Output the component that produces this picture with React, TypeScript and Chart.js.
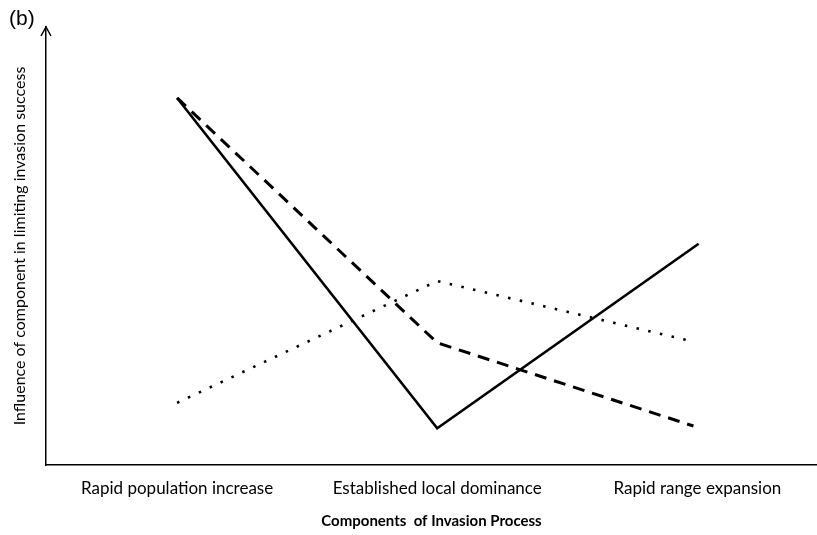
import React, { useEffect, useRef } from "react";
import { Chart, registerables } from "chart.js";

Chart.register(...registerables);

const categories = ["Rapid population increase", "Established local dominance", "Rapid range expansion"];
const solidX = [0, 1, 2.005];
const solidY = [8.38, 0.84, 5.05];
const dashedX = [0, 1, 1.985];
const dashedY = [8.38, 2.79, 0.89];
const dottedX = [0, 1, 1.99];
const dottedY = [1.42, 4.2, 2.81];
const xTitle = "Components  of Invasion Process";
const yTitle = "Influence of component in limiting invasion success";
const panelLabel = "(b)";

const pts = (xs: number[], ys: number[]) => xs.map((x, i) => ({ x, y: ys[i] }));

export default function App() {
  const ref = useRef<HTMLCanvasElement>(null);
  useEffect(() => {
    if (!ref.current) return;
    const decor = {
      id: "decor",
      afterDraw(chart: any) {
        const ctx = chart.ctx;
        const a = chart.chartArea;
        ctx.save();
        ctx.strokeStyle = "#000";
        ctx.lineWidth = 1.5;
        ctx.beginPath();
        ctx.moveTo(a.left - 5, a.top + 9);
        ctx.lineTo(a.left, a.top);
        ctx.lineTo(a.left + 5, a.top + 9);
        ctx.stroke();
        ctx.fillStyle = "#000";
        ctx.font = "21px 'Liberation Sans', Arial, sans-serif";
        ctx.textBaseline = "alphabetic";
        ctx.textAlign = "left";
        ctx.fillText(panelLabel, 9, 25);
        ctx.restore();
      },
    };
    const chart = new Chart(ref.current, {
      type: "scatter",
      data: {
        datasets: [
          {
            label: "solid",
            data: pts(solidX, solidY),
            showLine: true,
            borderColor: "#000",
            borderWidth: 2.6,
            pointRadius: 0,
            fill: false,
          },
          {
            label: "dashed",
            data: pts(dashedX, dashedY),
            showLine: true,
            borderColor: "#000",
            borderWidth: 3,
            borderDash: [12, 8],
            pointRadius: 0,
            fill: false,
          },
          {
            label: "dotted",
            data: pts(dottedX, dottedY),
            showLine: true,
            borderColor: "#000",
            borderWidth: 2.6,
            borderDash: [2.5, 9.5],
            pointRadius: 0,
            fill: false,
          },
        ] as any,
      },
      options: {
        animation: false,
        responsive: false,
        maintainAspectRatio: false,
        layout: { padding: { top: 27, left: 0, right: 0, bottom: 0 } },
        plugins: { legend: { display: false }, tooltip: { enabled: false } },
        scales: {
          x: {
            type: "linear",
            min: -0.504,
            max: 2.46,
            afterBuildTicks: (scale: any) => {
              scale.ticks = categories.map((_, i) => ({ value: i }));
            },
            ticks: {
              color: "#000",
              font: { family: "Lato", size: 17 },
              padding: 13,
              callback: (v: any) => categories[Math.round(Number(v))] ?? "",
              maxRotation: 0,
              autoSkip: false,
            },
            grid: { display: false, drawTicks: false },
            border: { display: true, color: "#000", width: 1.5 },
            title: {
              display: true,
              text: xTitle,
              color: "#000",
              font: { family: "Lato", size: 15, weight: "bold" },
              padding: { top: 0, bottom: 5 },
            },
            afterFit: (scale: any) => {
              scale.height = 70;
            },
          },
          y: {
            type: "linear",
            min: 0,
            max: 10,
            ticks: { display: false },
            grid: { display: false, drawTicks: false },
            border: { display: true, color: "#000", width: 1.5 },
            title: {
              display: true,
              text: yTitle,
              color: "#000",
              font: { family: "Lato", size: 16 },
              padding: { top: 10, bottom: 0 },
            },
            afterFit: (scale: any) => {
              scale.width = 46;
            },
          },
        },
      } as any,
      plugins: [decor],
    });
    return () => chart.destroy();
  }, []);
  return (
    <div style={{ position: "absolute", left: 0, top: 0, width: 817, height: 535, background: "#fff" }}>
      <canvas ref={ref} width={817} height={535} style={{ width: 817, height: 535 }} />
    </div>
  );
}
